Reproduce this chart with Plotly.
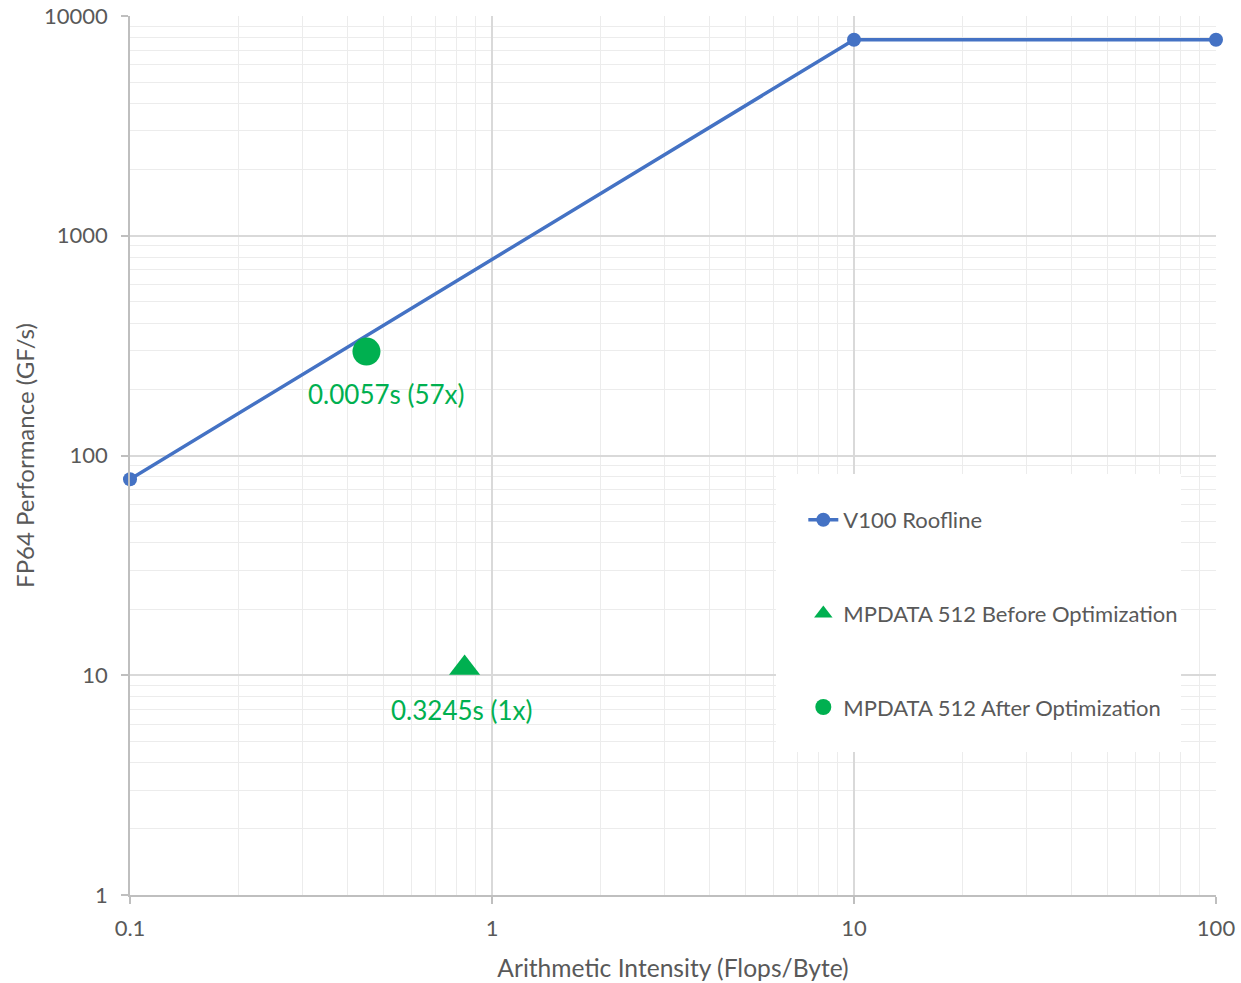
import math
import plotly.graph_objects as go

# Roofline model for the V100 (FP64)
roof_ai = [0.1, 10, 100]
roof_perf = [78, 7800, 7800]

# Measured kernel positions
before_ai = [0.84]
before_perf = [10.8]
before_label = "0.3245s (1x)"

after_ai = [0.45]
after_perf = [297]
after_label = "0.0057s (57x)"

x_ticks = [0.1, 1, 10, 100]
x_ticktext = ["0.1", "1", "10", "100"]
y_ticks = [1, 10, 100, 1000, 10000]
y_ticktext = ["1", "10", "100", "1000", "10000"]

BLUE = "#4472c4"
GREEN = "#00b050"
TEXT = "#595959"
FONT = "Lato"

fig = go.Figure()

fig.add_trace(go.Scatter(
    x=roof_ai, y=roof_perf, name="V100 Roofline", mode="lines+markers",
    line=dict(color=BLUE, width=3.5),
    marker=dict(color=BLUE, size=14, symbol="circle"),
    legendgroup="a", cliponaxis=False,
))
fig.add_trace(go.Scatter(
    x=before_ai, y=before_perf, name="MPDATA 512 Before Optimization",
    mode="markers",
    marker=dict(color=GREEN, size=27, symbol="triangle-up"),
    legendgroup="b", cliponaxis=False,
))
fig.add_trace(go.Scatter(
    x=after_ai, y=after_perf, name="MPDATA 512 After Optimization",
    mode="markers",
    marker=dict(color=GREEN, size=28, symbol="circle"),
    legendgroup="c", cliponaxis=False,
))

# runtime labels under each kernel point
for xs, ys, lab, dx in [(after_ai, after_perf, after_label, 20),
                        (before_ai, before_perf, before_label, -3)]:
    fig.add_annotation(
        x=math.log10(xs[0]), y=math.log10(ys[0]),
        xref="x", yref="y",
        text=lab, showarrow=False, yshift=-42, xshift=dx,
        font=dict(family=FONT, size=26, color=GREEN),
    )

# white panel behind the legend
fig.add_shape(
    type="rect", xref="paper", yref="paper",
    x0=0.5948, x1=0.9678, y0=0.1627, y1=0.479,
    fillcolor="white", line=dict(width=0), layer="above",
)

axis_common = dict(
    type="log", automargin=False,
    showline=True, linecolor="#bfbfbf", linewidth=1.5,
    ticks="outside", ticklen=7, tickcolor="#bfbfbf", tickwidth=1.5,
    showgrid=True, gridcolor="#d9d9d9", gridwidth=1.5,
    minor=dict(dtick="D1", showgrid=True, gridcolor="#ececec", gridwidth=1.3,
               ticks=""),
    tickfont=dict(family=FONT, size=22, color=TEXT),
    zeroline=False,
)

fig.update_xaxes(
    **axis_common, range=[-1, 2],
    tickvals=x_ticks, ticktext=x_ticktext, ticklabelstandoff=6,
    title=dict(text="Arithmetic Intensity (Flops/Byte)",
               font=dict(family=FONT, size=24.6, color=TEXT), standoff=20),
)
fig.update_yaxes(
    **axis_common, range=[0, 4],
    tickvals=y_ticks, ticktext=y_ticktext, ticklabelstandoff=9,
    title=dict(text="FP64 Performance (GF/s)",
               font=dict(family=FONT, size=24, color=TEXT), standoff=3),
)

fig.update_layout(
    width=1241, height=983,
    margin=dict(l=130, r=25, t=16, b=88),
    paper_bgcolor="white", plot_bgcolor="white",
    font=dict(family=FONT, size=22, color=TEXT),
    showlegend=True,
    legend=dict(
        x=0.620, y=0.4505, xanchor="left", yanchor="top",
        bgcolor="rgba(0,0,0,0)", tracegroupgap=62,
        font=dict(family=FONT, size=22, color=TEXT),
    ),
)

fig.write_html("out.html")
